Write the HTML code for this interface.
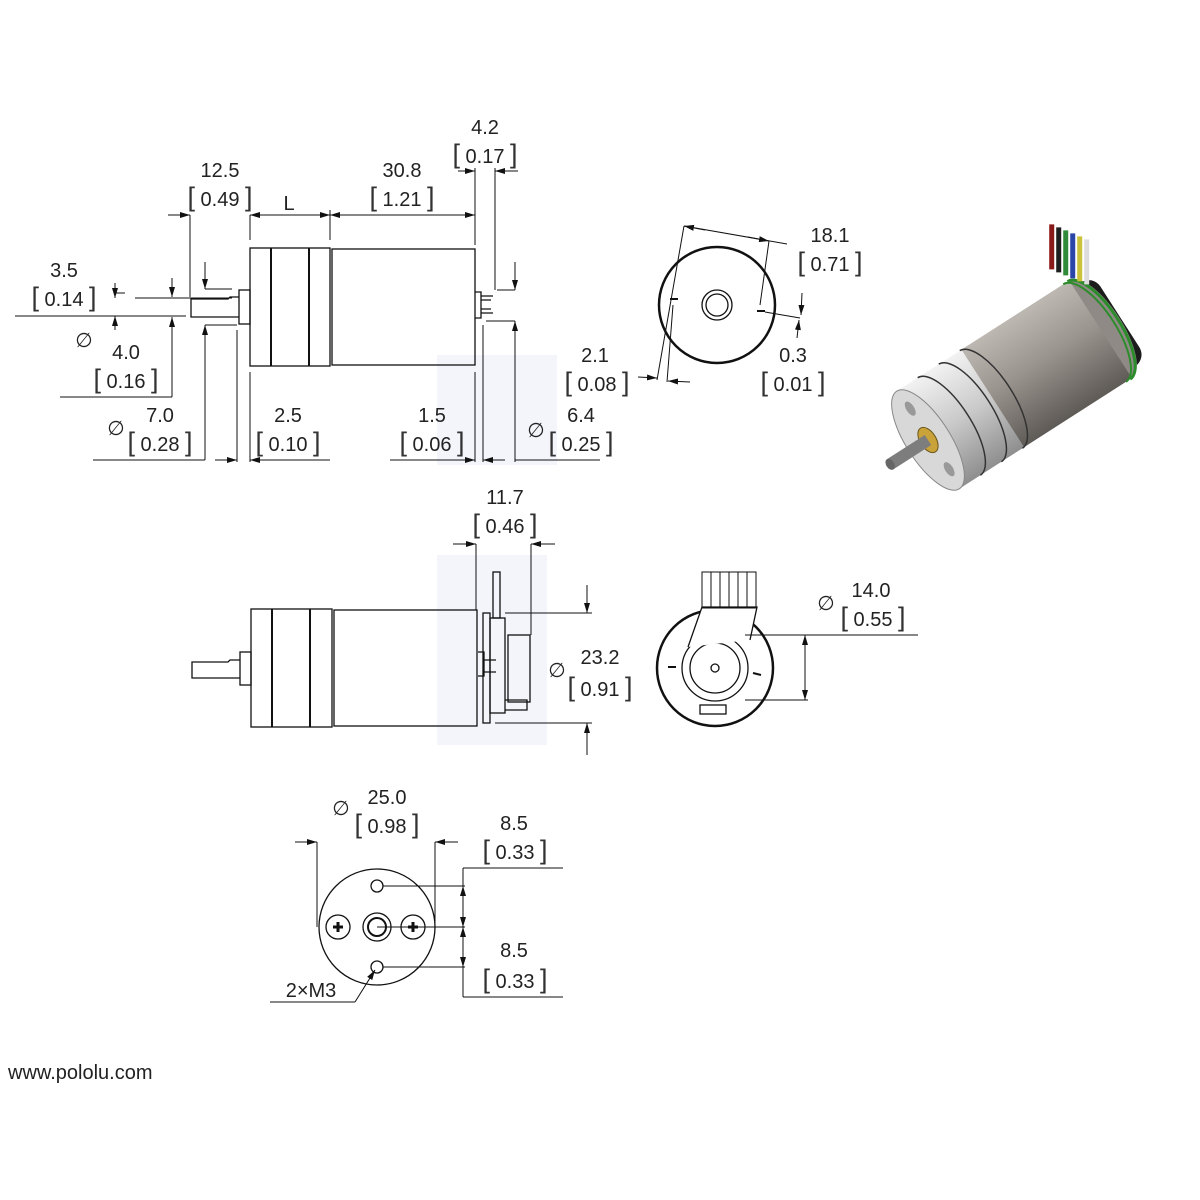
<!DOCTYPE html>
<html><head><meta charset="utf-8"><style>
body{margin:0;background:#fff}
svg{display:block}
text{font-family:"Liberation Sans",sans-serif;font-size:20px;fill:#222;text-anchor:middle}
.b{font-size:27px;fill:#333}
</style></head><body>
<svg width="1200" height="1200" viewBox="0 0 1200 1200" xmlns="http://www.w3.org/2000/svg">
<defs>
<marker id="a" viewBox="0 0 10 6" refX="10" refY="3" markerWidth="10" markerHeight="6" orient="auto-start-reverse" markerUnits="userSpaceOnUse"><path d="M0,0L10,3L0,6z" fill="#111"/></marker>
<linearGradient id="gb" x1="0" y1="0" x2="0" y2="1"><stop offset="0" stop-color="#f2f2f2"/><stop offset=".5" stop-color="#c9c9c9"/><stop offset="1" stop-color="#8e8e8e"/></linearGradient>
<linearGradient id="mt" x1="0" y1="0" x2="0" y2="1"><stop offset="0" stop-color="#bdb8b2"/><stop offset=".45" stop-color="#9a948e"/><stop offset="1" stop-color="#5e5a56"/></linearGradient>
</defs>
<g fill="#f3f5fa">
<rect x="437" y="355" width="120" height="110"/>
<rect x="437" y="555" width="110" height="190"/>
</g>
<g stroke="#111" fill="none" stroke-width="1.3">
<rect x="250" y="248" width="80" height="118"/>
<line x1="271" y1="248" x2="271" y2="366" stroke-width="2"/>
<line x1="309" y1="248" x2="309" y2="366" stroke-width="2"/>
<rect x="332" y="249" width="143" height="116"/>
<rect x="239" y="290" width="11" height="34"/>
<path d="M239,297H230L228,299H191V317H239"/>
<path d="M475,292h6v26h-6M481,296h12M481,313h12M481,300h10M481,309h10"/>
<g stroke-width="1">
<line x1="190" y1="215" x2="190" y2="297"/><line x1="250" y1="215" x2="250" y2="240"/>
<line x1="330" y1="210" x2="330" y2="240"/><line x1="475" y1="210" x2="475" y2="245"/>
<line x1="495" y1="168" x2="495" y2="290"/><line x1="475" y1="168" x2="475" y2="215"/>
<line x1="168" y1="215" x2="190" y2="215" marker-end="url(#a)"/>
<line x1="250" y1="215" x2="330" y2="215" marker-start="url(#a)" marker-end="url(#a)"/>
<line x1="330" y1="215" x2="475" y2="215" marker-start="url(#a)" marker-end="url(#a)"/>
<line x1="458" y1="171" x2="475" y2="171" marker-end="url(#a)"/>
<line x1="518" y1="171" x2="495" y2="171" marker-end="url(#a)"/>
<line x1="135" y1="298" x2="232" y2="298"/>
<line x1="15" y1="316" x2="186" y2="316"/>
<line x1="115" y1="283" x2="115" y2="298" marker-end="url(#a)"/><line x1="115" y1="293" x2="125" y2="293"/>
<line x1="115" y1="330" x2="115" y2="316" marker-end="url(#a)"/>
<line x1="172" y1="278" x2="172" y2="297" marker-end="url(#a)"/>
<line x1="172" y1="397" x2="172" y2="317" marker-end="url(#a)"/>
<line x1="60" y1="397" x2="172" y2="397"/>
<line x1="205" y1="262" x2="205" y2="289" marker-end="url(#a)"/><line x1="205" y1="289" x2="232" y2="289"/>
<line x1="205" y1="460" x2="205" y2="325" marker-end="url(#a)"/><line x1="205" y1="325" x2="237" y2="325"/>
<line x1="93" y1="460" x2="205" y2="460"/>
<line x1="237" y1="330" x2="237" y2="462"/><line x1="250" y1="372" x2="250" y2="462"/>
<line x1="215" y1="460" x2="237" y2="460" marker-end="url(#a)"/>
<line x1="330" y1="460" x2="250" y2="460" marker-end="url(#a)"/>
<line x1="475" y1="372" x2="475" y2="462"/><line x1="483" y1="325" x2="483" y2="462"/>
<line x1="390" y1="460" x2="475" y2="460" marker-end="url(#a)"/>
<line x1="505" y1="460" x2="483" y2="460" marker-end="url(#a)"/>
<line x1="486" y1="321" x2="515" y2="321"/>
<line x1="515" y1="462" x2="515" y2="321" marker-end="url(#a)"/>
<line x1="515" y1="460" x2="600" y2="460"/>
<line x1="497" y1="290" x2="515" y2="290"/>
<line x1="515" y1="262" x2="515" y2="290" marker-end="url(#a)"/>
</g>
<circle cx="717" cy="305" r="58" stroke-width="2.5"/>
<circle cx="717" cy="305" r="15"/><circle cx="717" cy="305" r="11"/>
<line x1="670" y1="299" x2="678" y2="299" stroke-width="2"/>
<line x1="757" y1="311" x2="765" y2="311" stroke-width="2"/>
<g stroke-width="1">
<line x1="684" y1="226" x2="787" y2="244"/>
<line x1="705" y1="230" x2="684" y2="226" marker-end="url(#a)"/>
<line x1="748" y1="237" x2="769" y2="241" marker-end="url(#a)"/>
<line x1="684" y1="226" x2="657" y2="380"/>
<line x1="769" y1="241" x2="760" y2="305"/>
<line x1="673" y1="305" x2="667" y2="382"/>
<line x1="638" y1="377" x2="657" y2="378" marker-end="url(#a)"/>
<line x1="690" y1="382" x2="668" y2="381" marker-end="url(#a)"/>
<line x1="765" y1="312" x2="800" y2="318"/>
<line x1="802" y1="293" x2="801" y2="315" marker-end="url(#a)"/>
<line x1="797" y1="338" x2="799" y2="320" marker-end="url(#a)"/>
</g>
<rect x="251" y="609" width="81" height="118"/>
<line x1="272" y1="609" x2="272" y2="727" stroke-width="2"/>
<line x1="310" y1="609" x2="310" y2="727" stroke-width="2"/>
<rect x="334" y="610" width="143" height="116"/>
<rect x="240" y="652" width="11" height="33"/>
<path d="M240,660H230L228,662H192V678H240"/>
<rect x="483" y="613" width="7" height="110"/>
<rect x="490" y="618" width="15" height="95"/>
<rect x="493" y="572" width="7" height="46"/>
<rect x="508" y="635" width="22" height="67"/>
<path d="M505,700h22v10h-22M478,652h6v24h-6M484,660h12M484,672h12"/>
<g stroke-width="1">
<line x1="476" y1="544" x2="476" y2="610"/><line x1="531" y1="544" x2="531" y2="635"/>
<line x1="453" y1="544" x2="476" y2="544" marker-end="url(#a)"/>
<line x1="555" y1="544" x2="531" y2="544" marker-end="url(#a)"/>
<line x1="505" y1="613" x2="592" y2="613"/>
<line x1="587" y1="585" x2="587" y2="613" marker-end="url(#a)"/>
<line x1="495" y1="723" x2="592" y2="723"/>
<line x1="587" y1="755" x2="587" y2="723" marker-end="url(#a)"/>
</g>
<circle cx="715" cy="668" r="58" stroke-width="2.5"/>
<circle cx="715" cy="668" r="33"/><circle cx="715" cy="668" r="25"/><circle cx="715" cy="668" r="4"/>
<path d="M688,647L702,607H757L750,640" fill="#fff"/>
<g stroke-width="1"><rect x="702" y="572" width="9" height="36"/><rect x="711" y="572" width="9" height="36"/><rect x="720" y="572" width="9" height="36"/><rect x="729" y="572" width="9" height="36"/><rect x="738" y="572" width="9" height="36"/><rect x="747" y="572" width="9" height="36"/></g>
<line x1="668" y1="667" x2="676" y2="667" stroke-width="2"/>
<line x1="753" y1="673" x2="761" y2="675" stroke-width="2"/>
<rect x="700" y="705" width="26" height="9"/>
<g stroke-width="1">
<line x1="745" y1="635" x2="918" y2="635"/>
<line x1="745" y1="700" x2="808" y2="700"/>
<line x1="805" y1="668" x2="805" y2="635" marker-end="url(#a)"/>
<line x1="805" y1="668" x2="805" y2="700" marker-end="url(#a)"/>
</g>
<circle cx="377" cy="927" r="58"/>
<circle cx="377" cy="886" r="6"/><circle cx="377" cy="967" r="6"/>
<circle cx="377" cy="927" r="14"/><circle cx="377" cy="927" r="9" stroke-width="2"/>
<circle cx="338" cy="927" r="12"/><circle cx="413" cy="927" r="12"/>
<path d="M333,927h10M338,922v10M408,927h10M413,922v10" stroke-width="3"/>
<g stroke-width="1">
<line x1="317" y1="842" x2="317" y2="927"/><line x1="435" y1="842" x2="435" y2="927"/>
<line x1="295" y1="842" x2="317" y2="842" marker-end="url(#a)"/>
<line x1="458" y1="842" x2="435" y2="842" marker-end="url(#a)"/>
<line x1="463" y1="868" x2="563" y2="868"/><line x1="463" y1="997" x2="563" y2="997"/>
<line x1="463" y1="868" x2="463" y2="997"/>
<line x1="383" y1="886" x2="465" y2="886"/><line x1="377" y1="927" x2="465" y2="927"/><line x1="383" y1="967" x2="465" y2="967"/>
<line x1="463" y1="906" x2="463" y2="886" marker-end="url(#a)"/>
<line x1="463" y1="906" x2="463" y2="927" marker-end="url(#a)"/>
<line x1="463" y1="947" x2="463" y2="927" marker-end="url(#a)"/>
<line x1="463" y1="947" x2="463" y2="967" marker-end="url(#a)"/>
<line x1="270" y1="1002" x2="355" y2="1002"/>
<line x1="355" y1="1002" x2="375" y2="970" marker-end="url(#a)"/>
</g>
</g>
<text x="220" y="177">12.5</text><text x="220" y="206"><tspan class="b">[</tspan> 0.49 <tspan class="b">]</tspan></text>
<text x="289" y="210">L</text>
<text x="402" y="177">30.8</text><text x="402" y="206"><tspan class="b">[</tspan> 1.21 <tspan class="b">]</tspan></text>
<text x="485" y="134">4.2</text><text x="485" y="163"><tspan class="b">[</tspan> 0.17 <tspan class="b">]</tspan></text>
<text x="64" y="277">3.5</text><text x="64" y="306"><tspan class="b">[</tspan> 0.14 <tspan class="b">]</tspan></text>
<text x="84" y="347">∅</text><text x="126" y="359">4.0</text><text x="126" y="388"><tspan class="b">[</tspan> 0.16 <tspan class="b">]</tspan></text>
<text x="116" y="435">∅</text><text x="160" y="422">7.0</text><text x="160" y="451"><tspan class="b">[</tspan> 0.28 <tspan class="b">]</tspan></text>
<text x="288" y="422">2.5</text><text x="288" y="451"><tspan class="b">[</tspan> 0.10 <tspan class="b">]</tspan></text>
<text x="432" y="422">1.5</text><text x="432" y="451"><tspan class="b">[</tspan> 0.06 <tspan class="b">]</tspan></text>
<text x="536" y="437">∅</text><text x="581" y="422">6.4</text><text x="581" y="451"><tspan class="b">[</tspan> 0.25 <tspan class="b">]</tspan></text>
<text x="830" y="242">18.1</text><text x="830" y="271"><tspan class="b">[</tspan> 0.71 <tspan class="b">]</tspan></text>
<text x="595" y="362">2.1</text><text x="597" y="391"><tspan class="b">[</tspan> 0.08 <tspan class="b">]</tspan></text>
<text x="793" y="362">0.3</text><text x="793" y="391"><tspan class="b">[</tspan> 0.01 <tspan class="b">]</tspan></text>
<text x="505" y="504">11.7</text><text x="505" y="533"><tspan class="b">[</tspan> 0.46 <tspan class="b">]</tspan></text>
<text x="557" y="677">∅</text><text x="600" y="664">23.2</text><text x="600" y="696"><tspan class="b">[</tspan> 0.91 <tspan class="b">]</tspan></text>
<text x="826" y="610">∅</text><text x="871" y="597">14.0</text><text x="873" y="626"><tspan class="b">[</tspan> 0.55 <tspan class="b">]</tspan></text>
<text x="341" y="815">∅</text><text x="387" y="804">25.0</text><text x="387" y="833"><tspan class="b">[</tspan> 0.98 <tspan class="b">]</tspan></text>
<text x="514" y="830">8.5</text><text x="515" y="859"><tspan class="b">[</tspan> 0.33 <tspan class="b">]</tspan></text>
<text x="514" y="957">8.5</text><text x="515" y="988"><tspan class="b">[</tspan> 0.33 <tspan class="b">]</tspan></text>
<text x="311" y="997">2×M3</text>
<text x="8" y="1079" style="text-anchor:start">www.pololu.com</text>
<g transform="translate(928,440) rotate(-32.7)">
<rect x="200" y="-50" width="28" height="100" rx="14" fill="#1c1c1c"/>
<ellipse cx="205" cy="0" rx="22" ry="58" fill="#8f8a85"/>
<rect x="75" y="-58" width="130" height="116" fill="url(#mt)"/>
<rect x="0" y="-58" width="77" height="116" fill="url(#gb)"/>
<path d="M203,-58A22,58 0 0 1 203,58" stroke="#2c8c2c" stroke-width="3" fill="none"/>
<path d="M198,-58A22,58 0 0 1 198,58" stroke="#2c8c2c" stroke-width="2" fill="none"/>
<g transform="translate(210,-62) rotate(32.7)">
<rect x="-22" y="-50" width="5" height="45" fill="#8a1a1a"/><rect x="-15" y="-47" width="5" height="45" fill="#1e1e1e"/><rect x="-8" y="-44" width="5" height="45" fill="#2f8a3a"/><rect x="-1" y="-41" width="5" height="45" fill="#2a46a8"/><rect x="6" y="-38" width="5" height="45" fill="#c9c23a"/><rect x="13" y="-35" width="5" height="45" fill="#ddd"/>
</g>
<path d="M25,-58A22,58 0 0 1 25,58M50,-58A22,58 0 0 1 50,58M75,-58A22,58 0 0 1 75,58" stroke="#333" stroke-width="1.5" fill="none"/>
<ellipse cx="0" cy="0" rx="22" ry="58" fill="#d8d8d8" stroke="#888"/>
<ellipse cx="0" cy="0" rx="8" ry="14" fill="#c9a33a" stroke="#6b5518"/>
<rect x="-45" y="-6" width="45" height="12" fill="#7d7d7d"/>
<ellipse cx="-45" cy="0" rx="4" ry="6" fill="#666"/>
<ellipse cx="2" cy="-36" rx="4" ry="8" fill="#999"/><ellipse cx="2" cy="36" rx="4" ry="8" fill="#999"/>
</g>
</svg>
</body></html>
